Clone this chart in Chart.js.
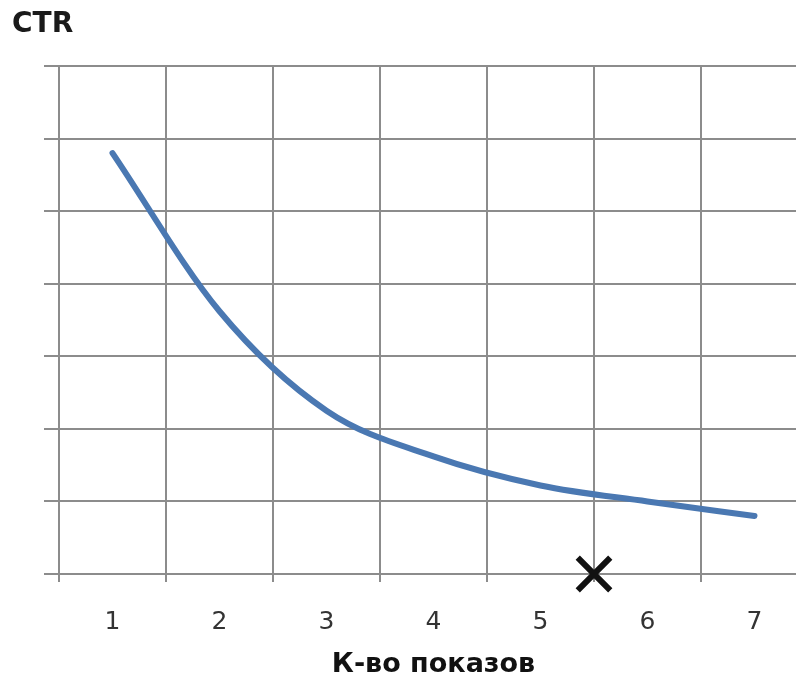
<!DOCTYPE html>
<html>
<head>
<meta charset="utf-8">
<script src="https://cdn.jsdelivr.net/npm/chart.js@4.4.1/dist/chart.umd.min.js"></script>
<style>
  html, body { margin: 0; padding: 0; background: #fff; overflow: hidden; }
  #wrap { position: relative; width: 812px; height: 680px; }
  #ctr { position: absolute; left: 12px; top: 9px; font: bold 28px "DejaVu Sans", sans-serif; line-height: 1; color: #1a1a1a; }
</style>
</head>
<body>
<div id="wrap">
  <canvas id="ctrChart" width="812" height="680"></canvas>
  <div id="ctr">CTR</div>
</div>
<script>
// categories (number of impressions)
const shows = ['1', '2', '3', '4', '5', '6', '7'];
// CTR values (axis has no numbers, 0..7 grid units)
const ctrValues = [5.8, 3.62, 2.25, 1.62, 1.22, 1.0, 0.8];
// the cross mark on the x axis, between 5 and 6
const markX = [4.5]; // index position on category scale
const markY = [0];

const gridColor = '#8c8c8c';

const ctx = document.getElementById('ctrChart').getContext('2d');

const ctrChart = new Chart(ctx, {
    type: 'line',
    data: {
        labels: shows,
        datasets: [{
            label: 'CTR',
            data: ctrValues,
            borderColor: '#4a78b2',
            borderWidth: 6,
            borderCapStyle: 'round',
            pointRadius: 0,
            cubicInterpolationMode: 'monotone',
            fill: false,
        }, {
            type: 'scatter',
            label: 'mark',
            xAxisID: 'x2',
            data: markX.map((x, i) => ({ x: x, y: markY[i] })),
            pointStyle: 'crossRot',
            pointRadius: 23,
            pointBorderWidth: 6,
            borderColor: '#111',
            backgroundColor: '#111',
            clip: false,
        }]
    },
    options: {
        responsive: false,
        animation: false,
        devicePixelRatio: 1,
        layout: {
            autoPadding: false,  // big cross marker would otherwise shrink the chart area
            padding: { top: 66, left: 44, right: 4, bottom: 2 }
        },
        plugins: {
            legend: { display: false },
            tooltip: { enabled: false },
        },
        scales: {
            x: {
                type: 'category',
                offset: true,
                grid: {
                    offset: true,
                    color: gridColor,
                    lineWidth: 2,
                    tickLength: 8,
                },
                border: { color: gridColor, width: 2 },
                ticks: {
                    color: '#333',
                    padding: 28,
                    font: { family: 'DejaVu Sans', size: 25, lineHeight: 1.0 },
                },
                title: {
                    display: true,
                    text: 'К-во показов',
                    color: '#111',
                    // the axis box came out ~28px taller than expected, pull it back
                    padding: { top: -12, bottom: 0 },
                    font: { family: 'DejaVu Sans', size: 27, weight: 'bold', lineHeight: 1.0 },
                },
            },
            x2: {
                type: 'linear',
                display: false,
                min: -0.5,
                max: 6.5,
            },
            y: {
                min: 0,
                max: 7,
                ticks: { stepSize: 1, display: false },
                grid: {
                    color: gridColor,
                    lineWidth: 2,
                    tickLength: 15,
                },
                border: { color: gridColor, width: 2 },
            },
        },
    }
});
</script>
</body>
</html>
